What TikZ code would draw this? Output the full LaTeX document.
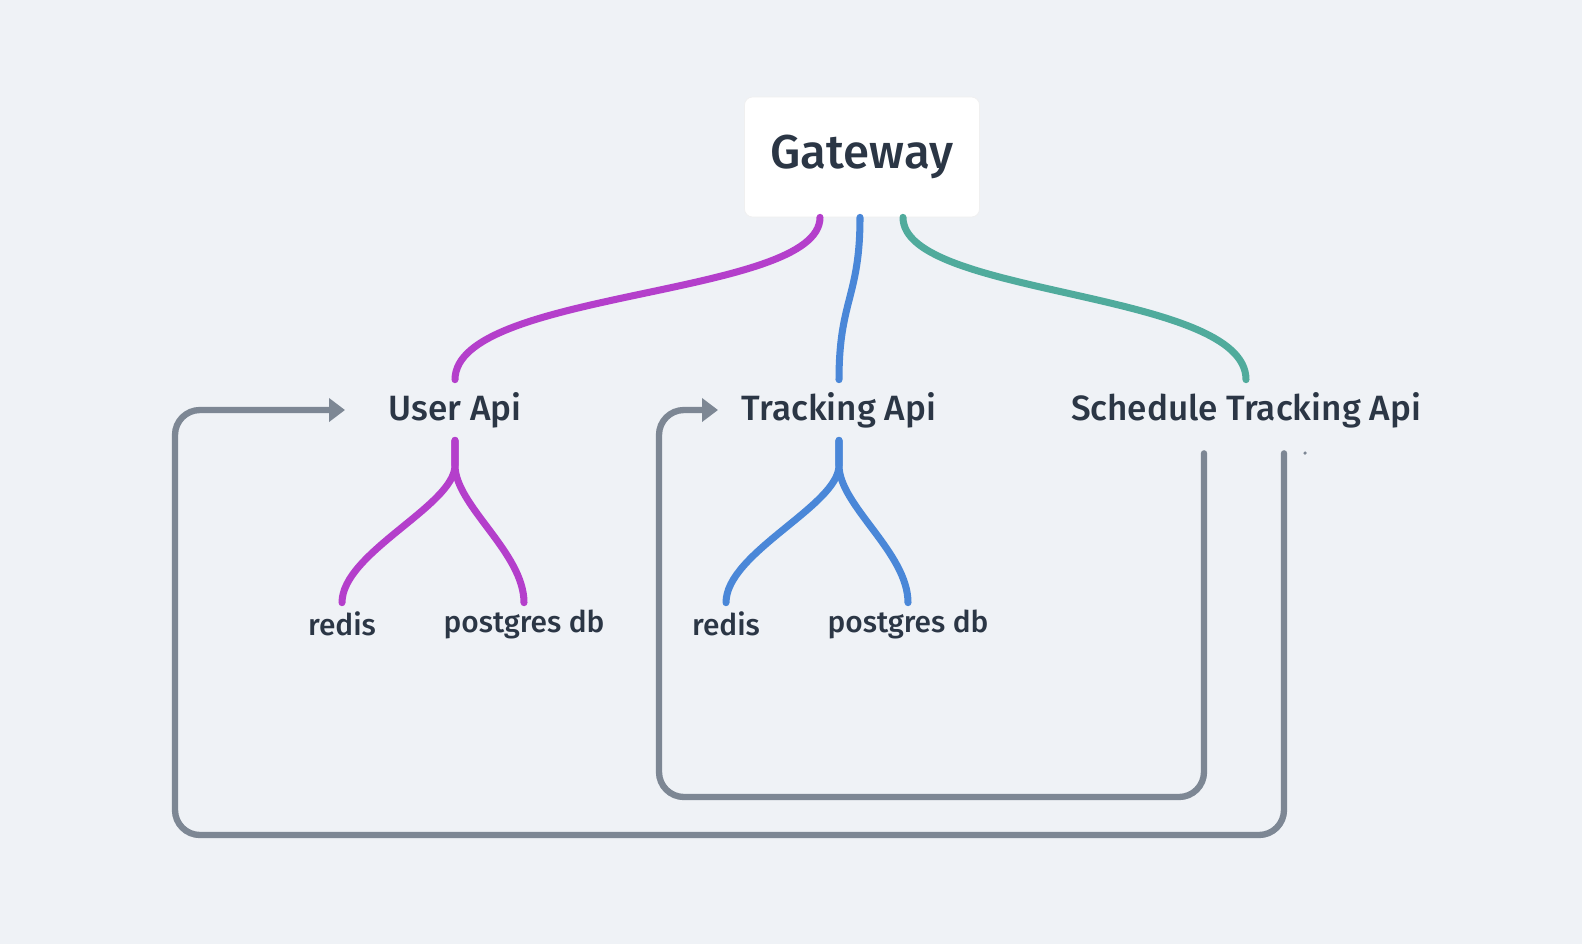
\documentclass[tikz,border=0pt]{standalone}
\usepackage{fontspec}
\setmainfont{Fira Sans}[UprightFont=* Medium]
\usetikzlibrary{arrows.meta,calc}
\definecolor{bgc}{HTML}{EFF2F6}
\definecolor{ink}{HTML}{2B3645}
\definecolor{userc}{HTML}{B43FCB}
\definecolor{trackc}{HTML}{4A87D8}
\definecolor{schedc}{HTML}{50AB9C}
\definecolor{loopc}{HTML}{7D8794}
\tikzset{
	api/.style={inner sep=0pt, minimum height=1.2cm, text=ink, font=\fontsize{20}{24}\selectfont},
	leaf/.style={inner sep=0pt, minimum height=0.84cm, text=ink, font=\fontsize{17}{20}\selectfont},
	branch/.style={line width=4pt, line cap=round},
	loopback/.style={draw=loopc, line width=3.6pt, line cap=round, rounded corners=0.5cm,
			-{Triangle[length=0.32cm,width=0.46cm]}}
}
\begin{document}
\begin{tikzpicture}[x=0.02cm, y=-0.02cm]

			% Background
			\fill[bgc] (0,0) rectangle (1582,944);

			% Gateway box
			\node[fill=white, draw=black!6, line width=0.4pt, rounded corners=0.16cm,
				minimum width=4.7cm, minimum height=2.4cm,
				text=ink, font=\fontsize{27}{32}\selectfont] (gw) at (862,157) {Gateway};

			% Services
			\node[api] (ua) at (455,410) {User Api};
			\node[api] (ta) at (839,410) {Tracking Api};
			\node[api] (sta) at (1246,410) {Schedule Tracking Api};

			% Stores
			\node[leaf] (ur) at (342,624) {redis};
			\node[leaf] (up) at (524,624) {postgres db};
			\node[leaf] (tr) at (726,624) {redis};
			\node[leaf] (tp) at (908,624) {postgres db};

			% Gateway to services
			\draw[branch, userc] ($(gw.south)+(-42,0)$) .. controls +(0,80) and +(0,-90) .. (ua.north);
			\draw[branch, trackc] ($(gw.south)+(-2,0)$) .. controls +(0,80) and +(0,-80) .. (ta.north);
			\draw[branch, schedc] ($(gw.south)+(41,0)$) .. controls +(0,80) and +(0,-90) .. (sta.north);

			% Services to stores
			\draw[branch, userc] (ua.south) -- ++(0,25) .. controls +(0,40) and +(0,-50) .. (ur.north);
			\draw[branch, userc] (ua.south) -- ++(0,25) .. controls +(0,40) and +(0,-50) .. (up.north);
			\draw[branch, trackc] (ta.south) -- ++(0,25) .. controls +(0,40) and +(0,-50) .. (tr.north);
			\draw[branch, trackc] (ta.south) -- ++(0,25) .. controls +(0,40) and +(0,-50) .. (tp.north);

			% Loop back from the scheduler
			\draw[loopback] ($(sta.south)+(38,13)$) |- (175,835) |- ($(ua.center)+(-110,0)$);
			\draw[loopback] ($(sta.south)+(-42,13)$) |- (659,797) |- ($(ta.center)+(-121,0)$);
			\fill[loopc] (1305,453) circle (1pt);

		\end{tikzpicture}
\end{document}
